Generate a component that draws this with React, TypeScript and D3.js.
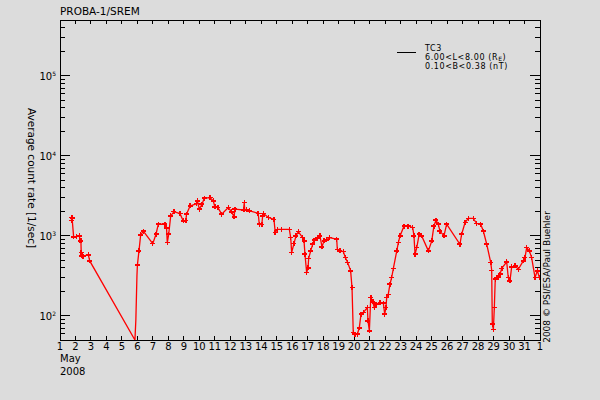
import React from "react";
import * as d3 from "d3";

const title = "PROBA-1/SREM";
const yLabel = "Average count rate [1/sec]";
const credit = "2008 \u00a9 PSI/ESA/Paul Buehler";
const legendName = "TC3";
const legendL = ["6.00<L<8.00 (R", "E", ")"];
const legendB = "0.10<B<0.38 (nT)";
const monthLabel = "May";
const yearLabel = "2008";
const dayTicks = d3.range(1, 33);
const dayTickLabels = dayTicks.map((d) => (d === 32 ? "1" : String(d)));
const decadeExponents = [2, 3, 4, 5];

const days = [
  1.74, 1.76, 1.78, 1.88, 2.05, 2.25, 2.30, 2.35, 2.37, 2.42, 2.50, 2.83, 2.92,
  5.84, 5.90, 5.97, 6.00, 6.10, 6.21, 6.38, 6.99, 7.20, 7.35, 7.78, 7.88, 7.93,
  8.02, 8.15, 8.36, 8.75, 8.96, 9.13, 9.17, 9.40, 9.83, 9.87, 10.0, 10.17, 10.32,
  10.69, 10.90, 11.0, 11.2, 11.44, 11.87, 12.08, 12.24, 12.30, 12.85, 12.9, 12.93,
  13.06, 13.25, 13.80, 13.87, 14.03, 14.09, 14.15, 14.45, 14.82, 14.90, 15.04,
  15.32, 15.81, 15.90, 15.96, 16.11, 16.24, 16.39, 16.67, 16.76, 16.82, 16.93,
  17.02, 17.06, 17.19, 17.32, 17.42, 17.62, 17.79, 17.92, 18.05, 18.22, 18.39,
  18.87, 18.91, 19.08, 19.30, 19.43, 19.58, 19.77, 19.86, 19.94, 20.05, 20.20,
  20.33, 20.44, 20.59, 20.85, 20.89, 20.98, 21.07, 21.20, 21.30, 21.41, 21.67,
  21.88, 21.97, 22.05, 22.10, 22.20, 22.31, 22.42, 22.53, 22.75, 22.85, 22.96,
  23.22, 23.49, 23.78, 23.86, 23.93, 24.04, 24.20, 24.36, 24.79, 25.01, 25.15,
  25.28, 25.43, 25.54, 25.80, 25.97, 26.83, 26.94, 27.16, 27.37, 27.69, 27.91,
  28.17, 28.34, 28.56, 28.82, 28.88, 28.92, 28.99, 29.05, 29.11, 29.22, 29.31,
  29.42, 29.53, 29.85, 29.95, 30.06, 30.17, 30.39, 30.60, 30.92, 31.03, 31.14,
  31.31, 31.46, 31.68, 31.83, 31.96,
];

const rates = [
  1550, 1700, 1680, 975, 980, 1000, 866, 870, 620, 562, 560, 580, 487,
  50, 90, 320, 435, 650, 1030, 1150, 800, 1050, 1400, 1400, 1260, 825,
  1050, 1780, 2010, 1900, 1540, 1560, 1870, 2370, 2530, 2740, 2160, 2490, 2960,
  3010, 2740, 2300, 2260, 1870, 2260, 2000, 1730, 2160, 2110, 2610, 2110,
  2110, 2050, 1920, 1400, 1380, 1780, 1900, 1700, 1610, 1100, 1210,
  1210, 1210, 955, 620, 800, 1000, 1130, 955, 870, 590, 348,
  400, 525, 650, 787, 885, 940, 1000, 730, 866, 890, 955,
  910, 680, 650, 637, 535, 464, 366, 226, 62, 59, 59,
  71, 105, 110, 127, 87, 65, 170, 150, 127, 140, 147,
  145, 105, 127, 170, 186, 249, 302, 394, 650, 825, 1000,
  1330, 1330, 1270, 1000, 590, 714, 1050, 1000, 650, 866, 1330,
  1570, 1400, 1150, 1000, 1400, 787, 1050, 1470, 1660, 1660, 1430,
  1400, 1150, 787, 464, 372, 79, 68, 127, 288, 302, 302,
  332, 394, 473, 302, 274, 410, 422, 383, 487, 535, 714,
  650, 535, 302, 366, 302,
];

const W = 600;
const H = 400;
const left = 60;
const right = 540;
const top = 20;
const bottom = 340;
const font = "'DejaVu Sans', sans-serif";

export default function App() {
  const x = d3.scaleLinear().domain([1, 32]).range([left, right]);
  const y = d3.scaleLog().domain([50, 5e5]).range([bottom, top]);

  const pts = days.map((d, i) => [d, rates[i]] as [number, number]);
  const line = d3
    .line<[number, number]>()
    .x((p) => x(p[0]))
    .y((p) => y(p[1]));

  const minorTicks: number[] = [];
  for (let e = 1; e <= 5; e++) {
    for (let m = 2; m <= 9; m++) {
      const v = m * Math.pow(10, e);
      if (v >= 50 && v <= 5e5) minorTicks.push(v);
    }
  }

  const plus = (cx: number, cy: number) =>
    `M${cx - 2.5},${cy}H${cx + 2.5}M${cx},${cy - 2.5}V${cy + 2.5}`;

  return (
    <svg
      width={W}
      height={H}
      style={{ position: "fixed", left: 0, top: 0, display: "block" }}
      fontFamily={font}
    >
      <defs>
        <clipPath id="plotclip">
          <rect x={left} y={top} width={right - left} height={bottom - top} />
        </clipPath>
      </defs>
      <rect x={0} y={0} width={W} height={H} fill="#dcdcdc" />

      {/* frame */}
      <g stroke="#000" strokeWidth={1} shapeRendering="crispEdges" fill="none">
        <rect x={left} y={top} width={right - left} height={bottom - top} />
        {dayTicks.map((d) => (
          <g key={"xt" + d}>
            <line x1={x(d)} x2={x(d)} y1={bottom} y2={bottom - 4} />
            <line x1={x(d)} x2={x(d)} y1={top} y2={top + 4} />
          </g>
        ))}
        {decadeExponents.map((e) => (
          <g key={"yt" + e}>
            <line x1={left} x2={left + 10} y1={y(Math.pow(10, e))} y2={y(Math.pow(10, e))} />
            <line x1={right} x2={right - 10} y1={y(Math.pow(10, e))} y2={y(Math.pow(10, e))} />
          </g>
        ))}
        {minorTicks.map((v) => (
          <g key={"ym" + v}>
            <line x1={left} x2={left + 5} y1={y(v)} y2={y(v)} />
            <line x1={right} x2={right - 5} y1={y(v)} y2={y(v)} />
          </g>
        ))}
      </g>

      {/* x tick labels */}
      <g fontSize={10} fill="#000" textAnchor="middle">
        {dayTicks.map((d, i) => (
          <text key={"xl" + d} x={x(d)} y={350}>
            {dayTickLabels[i]}
          </text>
        ))}
        <text x={60} y={362} textAnchor="start">{monthLabel}</text>
        <text x={60} y={375} textAnchor="start">{yearLabel}</text>
      </g>

      {/* y tick labels */}
      <g fontSize={10} fill="#000">
        {decadeExponents.map((e) => (
          <text key={"yl" + e} x={56} y={y(Math.pow(10, e)) + 4} textAnchor="end">
            10
            <tspan fontSize={6} dy={-4}>{e}</tspan>
          </text>
        ))}
      </g>

      {/* title */}
      <text x={60} y={15} fontSize={10.5} fill="#000">{title}</text>

      {/* y axis label */}
      <text
        transform={`translate(28,178) rotate(90)`}
        textAnchor="middle"
        fontSize={10.5}
        fill="#000"
      >
        {yLabel}
      </text>

      {/* credit */}
      <text
        transform={`translate(549.5,277) rotate(-90)`}
        textAnchor="middle"
        fontSize={9}
        fill="#000"
      >
        {credit}
      </text>

      {/* legend */}
      <line x1={397} x2={416} y1={52} y2={52} stroke="#000" strokeWidth={1} shapeRendering="crispEdges" />
      <g fontSize={8} fill="#000" letterSpacing={0.6}>
        <text x={425} y={50.5}>{legendName}</text>
        <text x={425} y={59.5}>
          {legendL[0]}
          <tspan fontSize={6} dy={1.5}>{legendL[1]}</tspan>
          <tspan dy={-1.5}>{legendL[2]}</tspan>
        </text>
        <text x={425} y={68.5}>{legendB}</text>
      </g>

      {/* data */}
      <g clipPath="url(#plotclip)">
        <path d={line(pts) || ""} fill="none" stroke="#ff0000" strokeWidth={1.3} />
        <path
          d={pts.filter((p, i) => i < 13 || i > 15).map((p) => plus(x(p[0]), y(p[1]))).join("")}
          fill="none"
          stroke="#ff0000"
          strokeWidth={1.5}
          shapeRendering="crispEdges"
        />
      </g>
    </svg>
  );
}
